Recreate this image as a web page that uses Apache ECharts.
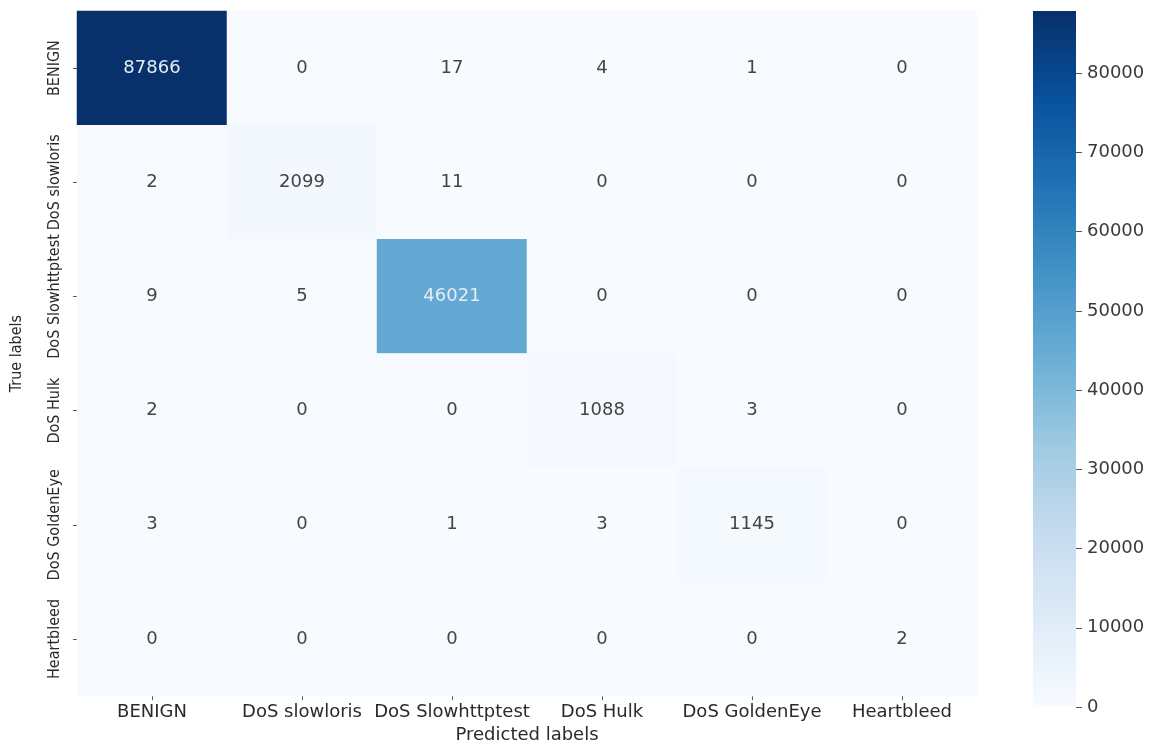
<!DOCTYPE html>
<html>
<head>
<meta charset="utf-8">
<script src="https://cdn.jsdelivr.net/npm/echarts@6/dist/echarts.min.js"></script>
<style>
  html, body { margin: 0; padding: 0; background: #fff; }
  #chart { width: 1169px; height: 749px; }
</style>
</head>
<body>
<div id="chart"></div>
<script>
// Class names (same order for predicted and true)
const classes = ['BENIGN', 'DoS slowloris', 'DoS Slowhttptest', 'DoS Hulk', 'DoS GoldenEye', 'Heartbleed'];

// Confusion matrix rows: true class, columns: predicted class
const rowBenign      = [87866, 0, 17, 4, 1, 0];
const rowSlowloris   = [2, 2099, 11, 0, 0, 0];
const rowSlowhttp    = [9, 5, 46021, 0, 0, 0];
const rowHulk        = [2, 0, 0, 1088, 3, 0];
const rowGoldenEye   = [3, 0, 1, 3, 1145, 0];
const rowHeartbleed  = [0, 0, 0, 0, 0, 2];
const matrix = [rowBenign, rowSlowloris, rowSlowhttp, rowHulk, rowGoldenEye, rowHeartbleed];

// Colour bar tick values
const colorbarTicks = [0, 10000, 20000, 30000, 40000, 50000, 60000, 70000, 80000];

// Sequential blue palette, light to dark
const blues = ['#f7fbff', '#deebf7', '#c6dbef', '#9ecae1', '#6baed6', '#4292c6', '#2171b5', '#08519c', '#08306b'];

let vmax = 0;
matrix.forEach(r => r.forEach(v => { if (v > vmax) vmax = v; }));

const cells = [];
matrix.forEach((row, yi) => {
  row.forEach((v, xi) => {
    cells.push({
      value: [xi, yi, v],
      label: { color: v > vmax * 0.4 ? '#e4ecf6' : '#444444' }
    });
  });
});

const textColor = '#2a2a2a';
const wide = '"DejaVu Sans", Verdana, sans-serif';
const narrow = '"DejaVu Sans Condensed", "Liberation Sans Narrow", sans-serif';

const chart = echarts.init(document.getElementById('chart'), null, { renderer: 'canvas' });
chart.setOption({
  backgroundColor: '#ffffff',
  animation: false,
  grid: [
    { left: 77, top: 11, width: 900, height: 696 },
    { left: 1033, top: 11, width: 43, height: 696 }
  ],
  xAxis: [
    {
      type: 'category', gridIndex: 0, data: classes,
      axisLine: { show: false },
      axisTick: { show: true, alignWithLabel: true, length: 4, lineStyle: { color: '#555', width: 1 } },
      axisLabel: { interval: 0, margin: 7, fontSize: 18, color: textColor, fontFamily: wide },
      splitLine: { show: false },
      name: 'Predicted labels', nameLocation: 'middle', nameGap: 27,
      nameTextStyle: { fontSize: 18, color: textColor, fontFamily: wide }
    },
    {
      type: 'category', gridIndex: 1, data: [''], show: false
    }
  ],
  yAxis: [
    {
      type: 'category', gridIndex: 0, data: classes, inverse: true,
      axisLine: { show: false },
      axisTick: { show: true, alignWithLabel: true, length: 4, lineStyle: { color: '#555', width: 1 } },
      axisLabel: { interval: 0, rotate: 90, margin: 14, fontSize: 16, color: textColor, fontFamily: narrow },
      splitLine: { show: false },
      name: 'True labels', nameLocation: 'middle', nameGap: 52, nameRotate: 90,
      nameTextStyle: { fontSize: 16, color: textColor, fontFamily: narrow }
    },
    {
      type: 'value', gridIndex: 1, position: 'right', min: 0, max: vmax,
      axisLine: { show: false },
      axisTick: { show: true, length: 6, customValues: colorbarTicks, lineStyle: { color: '#555', width: 1 } },
      axisLabel: { customValues: colorbarTicks, margin: 11, fontSize: 18, color: '#3a3a3a', fontFamily: wide,
                   formatter: v => String(v) },
      splitLine: { show: false }
    }
  ],
  visualMap: {
    show: false, type: 'continuous', min: 0, max: vmax, dimension: 2, seriesIndex: 0,
    inRange: { color: blues }
  },
  series: [
    {
      type: 'heatmap', xAxisIndex: 0, yAxisIndex: 0, data: cells,
      itemStyle: { borderWidth: 0 },
      label: { show: true, fontSize: 18, fontFamily: wide },
      emphasis: { disabled: true }
    },
    {
      // colour bar drawn as a single full-height bar
      type: 'bar', xAxisIndex: 1, yAxisIndex: 1, data: [vmax], barWidth: '100%',
      silent: true,
      itemStyle: {
        color: new echarts.graphic.LinearGradient(0, 0, 0, 1,
          blues.slice().reverse().map((c, i) => ({ offset: i / (blues.length - 1), color: c })))
      }
    }
  ]
});
</script>
</body>
</html>
